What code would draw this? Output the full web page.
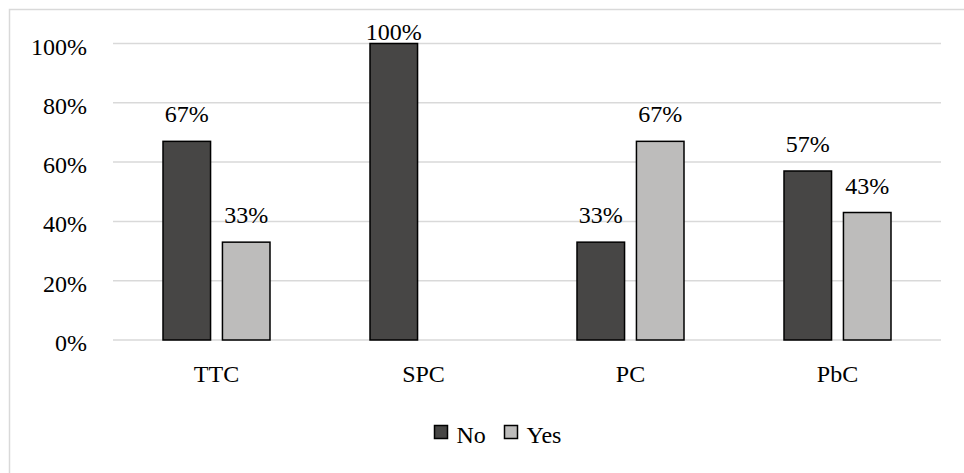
<!DOCTYPE html>
<html>
<head>
<meta charset="utf-8">
<script src="https://cdn.jsdelivr.net/npm/d3@7"></script>
<style>
  body { margin: 0; background: #fff; }
  text { font-family: "Liberation Serif", "Times New Roman", serif; fill: #000; }
</style>
</head>
<body>
<div id="chart"></div>
<script>
// donnees
const categories = ["TTC", "SPC", "PC", "PbC"];
const series = ["No", "Yes"];
const noValues = [67, 100, 33, 57];
const yesValues = [33, 0, 67, 43];
const yTicks = [0, 20, 40, 60, 80, 100];
const colors = { No: "#474645", Yes: "#bdbcbb" };

const width = 964,
  height = 473;
const margin = { top: 43.5, right: 23, bottom: 133, left: 113 };

const svg = d3
  .select("#chart")
  .append("svg")
  .attr("width", width)
  .attr("height", height);

// cadre exterieur
svg
  .append("rect")
  .attr("x", 9.5)
  .attr("y", 9.5)
  .attr("width", width)
  .attr("height", height)
  .style("fill", "none")
  .style("stroke", "#d9d9d9")
  .style("stroke-width", 1.5);

const x = d3
  .scaleBand()
  .domain(categories)
  .range([margin.left, width - margin.right])
  .paddingInner(0)
  .paddingOuter(0);

const inner = d3
  .scaleBand()
  .domain(series)
  .range([50, x.bandwidth() - 50])
  .paddingInner(0.2);

const y = d3
  .scaleLinear()
  .domain([0, 100])
  .range([height - margin.bottom, margin.top]);

// grille
svg
  .append("g")
  .selectAll("line")
  .data(yTicks)
  .join("line")
  .attr("x1", margin.left)
  .attr("x2", width - margin.right)
  .attr("y1", (d) => y(d))
  .attr("y2", (d) => y(d))
  .style("stroke", "#d9d9d9")
  .style("stroke-width", 1.5);

// axe y
svg
  .append("g")
  .selectAll("text")
  .data(yTicks)
  .join("text")
  .attr("x", 87)
  .attr("y", (d) => y(d) + 11)
  .style("text-anchor", "end")
  .style("font-size", "24px")
  .text((d) => d + "%");

// axe x
svg
  .append("g")
  .selectAll("text")
  .data(categories)
  .join("text")
  .attr("x", (d) => x(d) + x.bandwidth() / 2)
  .attr("y", y(0) + 42)
  .style("text-anchor", "middle")
  .style("font-size", "24px")
  .text((d) => d);

const rows = [];
categories.forEach((c, i) => {
  rows.push({ cat: c, key: "No", value: noValues[i] });
  rows.push({ cat: c, key: "Yes", value: yesValues[i] });
});
const bars = rows.filter((d) => d.value > 0);

svg
  .append("g")
  .selectAll("rect")
  .data(bars)
  .join("rect")
  .attr("x", (d) => x(d.cat) + inner(d.key))
  .attr("y", (d) => y(d.value))
  .attr("width", inner.bandwidth())
  .attr("height", (d) => y(0) - y(d.value))
  .style("fill", (d) => colors[d.key])
  .style("stroke", "#000")
  .style("stroke-width", 1.5);

// etiquettes de valeur
svg
  .append("g")
  .selectAll("text")
  .data(bars)
  .join("text")
  .attr("x", (d) => x(d.cat) + inner(d.key) + inner.bandwidth() / 2)
  .attr("y", (d) => Math.max(y(d.value) - 19, 40))
  .style("text-anchor", "middle")
  .style("font-size", "24px")
  .text((d) => d.value + "%");

// legende
const legend = svg
  .append("g")
  .selectAll("g")
  .data(series)
  .join("g")
  .attr("transform", (d, i) => `translate(${434.5 + i * 70}, 425.5)`);

legend
  .append("rect")
  .attr("width", 13)
  .attr("height", 13)
  .style("fill", (d) => colors[d])
  .style("stroke", "#000")
  .style("stroke-width", 1.5);

legend
  .append("text")
  .attr("x", 22)
  .attr("y", 17.5)
  .style("font-size", "24px")
  .text((d) => d);
</script>
</body>
</html>
